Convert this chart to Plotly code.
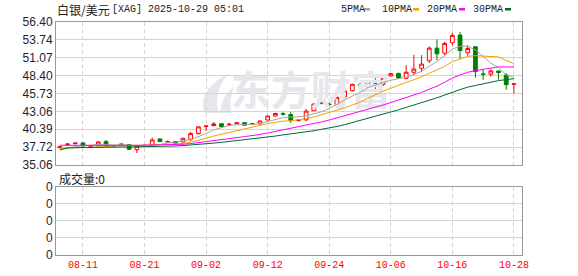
import plotly.graph_objects as go

# ---------------- data ----------------
dates = ["08-06", "08-07", "08-08", "08-11", "08-12", "08-13", "08-14", "08-15",
         "08-18", "08-19", "08-20", "08-21", "08-22", "08-25", "08-26", "08-27",
         "08-28", "08-29", "09-01", "09-02", "09-03", "09-04", "09-05", "09-08",
         "09-09", "09-10", "09-11", "09-12", "09-15", "09-16", "09-17", "09-18",
         "09-19", "09-22", "09-23", "09-24", "09-25", "09-26", "09-29", "09-30",
         "10-01", "10-02", "10-03", "10-06", "10-07", "10-08", "10-09", "10-10",
         "10-13", "10-14", "10-15", "10-16", "10-17", "10-20", "10-21", "10-22",
         "10-23", "10-24", "10-27", "10-28"]

opens = [37.64, 38.10, 38.25, 38.35, 37.83, 37.95, 38.55, 37.95, 38.12, 38.10,
         37.35, 37.95, 38.10, 38.95, 38.50, 38.55, 38.50, 38.90, 39.75, 40.80,
         40.95, 41.22, 41.08, 41.20, 41.38, 41.15, 41.20, 41.78, 42.37, 42.70,
         42.60, 41.70, 41.80, 43.17, 44.25, 44.15, 44.05, 45.20, 46.15, 47.05,
         46.75, 47.38, 47.10, 48.35, 48.72, 48.00, 48.90, 49.50, 50.60, 52.50,
         51.75, 53.30, 54.45, 51.80, 52.70, 48.65, 48.60, 49.08, 48.50, 47.12]
highs = [37.90, 38.35, 38.45, 38.45, 37.95, 38.60, 38.80, 38.00, 38.25, 38.15,
         37.95, 38.05, 39.15, 39.00, 38.70, 38.60, 39.10, 40.00, 40.80, 40.90,
         41.45, 41.30, 41.35, 41.45, 41.45, 41.30, 41.70, 42.45, 42.85, 42.95,
         42.95, 41.85, 43.40, 44.25, 44.45, 44.35, 45.25, 46.50, 47.20, 47.35,
         47.60, 48.15, 48.45, 48.80, 48.85, 49.95, 51.50, 51.45, 52.75, 53.80,
         53.45, 54.80, 54.90, 52.95, 52.80, 49.30, 49.35, 49.15, 48.80, 47.20]
lows = [37.55, 37.95, 38.10, 37.80, 37.75, 37.90, 37.90, 37.85, 38.05, 37.35,
        36.85, 37.90, 37.95, 38.50, 38.40, 38.30, 38.45, 38.60, 39.60, 40.15,
        40.80, 40.70, 40.90, 41.10, 40.90, 41.05, 41.10, 41.70, 42.30, 42.45,
        41.35, 41.50, 41.60, 43.10, 44.10, 43.85, 43.95, 44.80, 46.00, 46.30,
        46.60, 46.25, 46.80, 48.25, 47.90, 47.85, 48.50, 48.95, 50.30, 50.70,
        51.45, 52.90, 50.85, 51.35, 48.10, 47.75, 48.25, 47.80, 46.30, 45.75]
closes = [37.79, 38.18, 38.32, 37.90, 37.85, 38.50, 37.95, 37.93, 38.17, 37.40,
          37.85, 38.00, 38.80, 38.55, 38.56, 38.35, 39.05, 39.75, 40.75, 40.87,
          41.20, 40.80, 41.14, 41.35, 41.00, 41.20, 41.63, 42.37, 42.75, 42.65,
          41.70, 41.75, 43.10, 44.15, 44.32, 44.08, 45.15, 46.10, 47.10, 46.98,
          47.50, 47.30, 48.00, 48.70, 48.05, 48.90, 49.38, 50.12, 52.50, 51.65,
          53.20, 54.40, 52.15, 52.45, 49.00, 48.58, 49.10, 48.88, 47.05, 47.18]
volumes = [0, 0, 0, 0, 0, 0, 0, 0, 0, 0, 0, 0, 0, 0, 0, 0, 0, 0, 0, 0,
           0, 0, 0, 0, 0, 0, 0, 0, 0, 0, 0, 0, 0, 0, 0, 0, 0, 0, 0, 0,
           0, 0, 0, 0, 0, 0, 0, 0, 0, 0, 0, 0, 0, 0, 0, 0, 0, 0, 0, 0]

ma5 = [37.45, 37.62, 37.85, 37.95, 38.01, 38.15, 38.10, 38.03, 38.08, 37.99,
       37.86, 37.87, 38.04, 38.12, 38.35, 38.45, 38.66, 38.85, 39.29, 39.75,
       40.32, 40.67, 40.95, 41.07, 41.10, 41.10, 41.26, 41.51, 41.79, 42.12,
       42.22, 42.24, 42.39, 42.67, 43.00, 43.48, 44.16, 44.76, 45.35, 45.88,
       46.57, 47.00, 47.38, 47.70, 47.91, 48.19, 48.61, 49.03, 49.79, 50.51,
       51.37, 52.37, 52.78, 52.77, 52.24, 51.32, 50.26, 49.60, 48.52, 48.16]
ma10 = [37.55, 37.58, 37.60, 37.62, 37.65, 37.72, 37.80, 37.88, 37.95, 38.00,
        38.01, 37.99, 38.04, 38.10, 38.17, 38.16, 38.27, 38.45, 38.71, 39.05,
        39.39, 39.67, 39.90, 40.18, 40.43, 40.71, 40.97, 41.23, 41.43, 41.61,
        41.66, 41.75, 41.95, 42.23, 42.56, 42.85, 43.20, 43.58, 44.01, 44.44,
        45.02, 45.58, 46.07, 46.52, 46.90, 47.38, 47.80, 48.20, 48.74, 49.21,
        49.78, 50.49, 50.91, 51.28, 51.38, 51.34, 51.32, 51.19, 50.65, 50.20]
ma20 = [38.00, 38.01, 38.01, 38.00, 38.00, 38.01, 38.00, 38.00, 38.01, 38.00,
        37.99, 38.00, 38.01, 38.03, 38.05, 38.08, 38.15, 38.25, 38.38, 38.53,
        38.70, 38.83, 38.97, 39.14, 39.30, 39.43, 39.62, 39.84, 40.07, 40.33,
        40.52, 40.71, 40.93, 41.21, 41.49, 41.78, 42.09, 42.40, 42.72, 43.03,
        43.34, 43.67, 44.01, 44.38, 44.73, 45.11, 45.50, 45.89, 46.38, 46.83,
        47.40, 48.03, 48.49, 48.90, 49.14, 49.36, 49.56, 49.70, 49.69, 49.70]
ma30 = [37.30, 37.60, 37.65, 37.68, 37.70, 37.72, 37.72, 37.73, 37.74, 37.74,
        37.75, 37.76, 37.78, 37.82, 37.86, 37.90, 37.96, 38.03, 38.12, 38.22,
        38.33, 38.44, 38.56, 38.68, 38.80, 38.93, 39.07, 39.22, 39.38, 39.55,
        39.68, 39.80, 39.96, 40.17, 40.39, 40.57, 40.81, 41.08, 41.38, 41.70,
        42.02, 42.33, 42.64, 42.98, 43.29, 43.65, 43.99, 44.34, 44.73, 45.09,
        45.49, 45.94, 46.31, 46.68, 46.94, 47.19, 47.44, 47.66, 47.80, 47.95]

x_tick_labels = ["08-11", "08-21", "09-02", "09-12", "09-24", "10-06", "10-16", "10-28"]
y_tick_labels = ["35.06", "37.72", "40.39", "43.06", "45.73", "48.40", "51.07", "53.74", "56.40"]
vol_tick_labels = ["0", "0", "0", "0", "0"]

ma_names = ["5PMA", "10PMA", "20PMA", "30PMA"]
ma_series = [ma5, ma10, ma20, ma30]
ma_colors = ["#a6a6a6", "#f5a000", "#ff00ff", "#00692f"]

title_cn = "白银/美元"
title_rest = "[XAG] 2025-10-29 05:01"
vol_label = "成交量:0"
watermark = "东方财富"

# ---------------- layout helpers ----------------
W, H = 578, 276
L, R, T, B = 56, 522, 22, 255
PW, PH = R - L, B - T


def px(x):
    return (x - L) / PW


def py(y):
    return (B - y) / PH


def pt(x, y):
    return f"{px(x):.4f},{py(y):.4f}"


xs = list(range(len(dates)))
tickvals = [dates.index(d) for d in x_tick_labels]
grid = "#d4d4d4"
frame = "#999999"
wm_color = "#e6e6ec"

fig = go.Figure()

# watermark (below the data)
fig.add_trace(go.Scatter(
    x=[32.6], y=[45.55], mode="text", text=[watermark],
    textfont=dict(family="Noto Sans CJK SC", size=40, color=wm_color, weight="bold"),
    hoverinfo="skip", showlegend=False, xaxis="x", yaxis="y"))

fig.add_trace(go.Candlestick(
    x=xs, open=opens, high=highs, low=lows, close=closes,
    increasing=dict(line=dict(color="#ff0000", width=1), fillcolor="#ffffff"),
    decreasing=dict(line=dict(color="#008000", width=1), fillcolor="#008000"),
    whiskerwidth=0, hoverinfo="skip", showlegend=False, xaxis="x", yaxis="y"))

for name, s, c in zip(ma_names, ma_series, ma_colors):
    fig.add_trace(go.Scatter(x=xs, y=s, mode="lines", name=name,
                             line=dict(color=c, width=1), hoverinfo="skip",
                             showlegend=False, xaxis="x", yaxis="y"))

fig.add_trace(go.Bar(x=xs, y=volumes, marker=dict(color="#888888"),
                     hoverinfo="skip", showlegend=False, xaxis="x2", yaxis="y2"))

xrange = [-0.5, 60.05]
yvals = [float(v) for v in y_tick_labels]

fig.update_layout(
    width=W, height=H,
    margin=dict(l=L, r=W - R, t=T, b=H - B, pad=0, autoexpand=False),
    paper_bgcolor="white", plot_bgcolor="white",
    showlegend=False,
    xaxis=dict(domain=[0, 1], anchor="y", range=xrange, tickvals=tickvals,
               showticklabels=False, showgrid=True, gridcolor=grid,
               griddash="4px,3px", gridwidth=1, zeroline=False,
               showline=True, mirror=True, linecolor=frame, linewidth=1,
               ticks="", rangeslider=dict(visible=False), fixedrange=True,
               automargin=False),
    yaxis=dict(domain=[py(165), 1], anchor="x", range=[yvals[0], yvals[-1]],
               tickvals=yvals, ticktext=y_tick_labels, showgrid=True,
               gridcolor=grid, zeroline=False, showline=True, mirror=True,
               linecolor=frame, linewidth=1, ticks="", automargin=False,
               tickfont=dict(family="Liberation Sans", size=12, color="#1e1e32")),
    xaxis2=dict(domain=[0, 1], anchor="y2", range=xrange, tickvals=tickvals,
                ticktext=x_tick_labels, showgrid=True, gridcolor=grid,
                griddash="4px,3px", gridwidth=1, zeroline=False,
                showline=True, mirror=True, linecolor=frame, linewidth=1,
                ticks="", automargin=False,
                tickfont=dict(family="Liberation Mono", size=10, color="#ff0000")),
    yaxis2=dict(domain=[0, py(186.7)], anchor="x2", range=[0, 4],
                tickvals=[0, 1, 2, 3, 4], ticktext=vol_tick_labels,
                showgrid=True, gridcolor=grid, zeroline=False, showline=True,
                mirror=True, linecolor=frame, linewidth=1, ticks="",
                automargin=False,
                tickfont=dict(family="Liberation Sans", size=12, color="#1e1e32")),
)

annotations = [
    dict(text=title_cn, x=px(55), y=py(9.5), xanchor="left", yanchor="middle",
         font=dict(family="Noto Sans CJK SC", size=12, color="#222")),
    dict(text=title_rest, x=px(110), y=py(9.5), xanchor="left", yanchor="middle",
         font=dict(family="Liberation Mono", size=10, color="#222")),
    dict(text=vol_label, x=px(57), y=py(178), xanchor="left", yanchor="middle",
         font=dict(family="Noto Sans CJK SC", size=12, color="#222")),
]
shapes = []
legend_x = [338.5, 380, 425, 471]
dash_x = [364, 413, 459, 505]
for name, c, lx, dx in zip(ma_names, ma_colors, legend_x, dash_x):
    annotations.append(dict(text=name, x=px(lx), y=py(9.5), xanchor="left",
                            yanchor="middle",
                            font=dict(family="Liberation Mono", size=10, color="#222")))
    shapes.append(dict(type="rect", xref="paper", yref="paper",
                       x0=px(dx), x1=px(dx + 6), y0=py(10.5), y1=py(8),
                       fillcolor=c, line=dict(width=0)))

# watermark logo (stylised flame), drawn below the traces
logo_paths = [
    f"M{pt(204,113)} Q{pt(197,90)} {pt(229,73)} Q{pt(212,93)} {pt(219,113)} Z",
    f"M{pt(220,113)} Q{pt(221,97)} {pt(234,86)} Q{pt(229,100)} {pt(231,113)} Z",
]
for p in logo_paths:
    shapes.append(dict(type="path", xref="paper", yref="paper", path=p,
                       fillcolor=wm_color, line=dict(width=0), layer="below"))

for a in annotations:
    a.update(xref="paper", yref="paper", showarrow=False)
fig.update_layout(annotations=annotations, shapes=shapes)

fig.write_html("out.html")
